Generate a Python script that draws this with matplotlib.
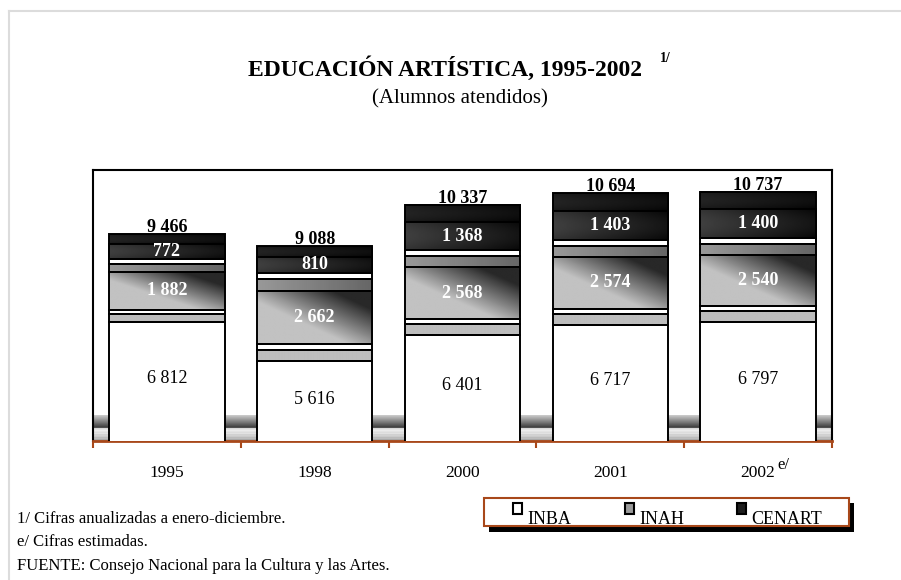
import numpy as np
import matplotlib
matplotlib.use('Agg')
import matplotlib.pyplot as plt
import matplotlib.patches as mpatches
from matplotlib.lines import Line2D

plt.rcParams['font.family'] = ['Liberation Serif', 'DejaVu Serif']

years = ['1995', '1998', '2000', '2001', '2002']
inba = [6812, 5616, 6401, 6717, 6797]
inah = [1882, 2662, 2568, 2574, 2540]
cenart = [772, 810, 1368, 1403, 1400]
totals = [9466, 9088, 10337, 10694, 10737]

BROWN = '#a8481a'
W, H = 901, 580


def fmt(v):
    return '{:,}'.format(v).replace(',', ' ')


def grad(ax, x0, x1, y0, y1, func, z):
    u, v = np.meshgrid(np.linspace(0, 1, 60), np.linspace(0, 1, 60))
    ax.imshow(func(u, v), extent=[x0, x1, y0, y1], origin='lower',
              cmap='gray', vmin=0, vmax=1, aspect='auto',
              interpolation='bilinear', zorder=z)


def diag_gray(u, v):
    t = np.clip((0.7 * u + 0.7 * v - 0.55) / 0.6, 0, 1)
    return 0.76 - 0.6 * t


def band_gray(u, v):
    return 0.6 - 0.2 * u + 0.0 * v


def light_gray(u, v):
    return 0.74 + 0.0 * u + 0.0 * v


def dark_low(u, v):
    return 0.2 - 0.17 * u + 0.05 * np.sin(v * np.pi)


def dark_top(u, v):
    return 0.1 - 0.08 * u + 0.04 * np.sin(v * np.pi)


def floor(u, v):
    top = np.where(v > 0.5, 0.2 + 0.6 * (v - 0.5) * 2, 0.0)
    bot = np.where(v <= 0.5, 0.95 - 0.3 * (1 - v * 2) ** 2 - 0.06 * (np.sin(v * 60) > 0), 0.0)
    return top + bot + 0.0 * u


fig = plt.figure(figsize=(W / 100, H / 100), dpi=100)

# frame elements in pixel space
ov = fig.add_axes([0, 0, 1, 1], zorder=3)
ov.set_xlim(0, W)
ov.set_ylim(H, 0)
ov.axis('off')
ov.patch.set_visible(False)

ax = fig.add_axes([93 / W, 1 - 441 / H, (832 - 93) / W, (441 - 170) / H], zorder=2)

x = np.arange(len(years))
bw = 0.78
ymin, ymax = 3200, 11400
floor_top = ymin + 780

grad(ax, -0.5, 4.5, ymin, floor_top, floor, 1)

lw = 1.4
for i in range(len(years)):
    x0 = x[i] - bw / 2
    x1 = x[i] + bw / 2
    # INBA
    ax.add_patch(mpatches.Rectangle((x0, 0), bw, inba[i], facecolor='white',
                                    edgecolor='black', lw=lw, zorder=4))
    # INAH sub-bands
    b = inba[i]
    h = inah[i]
    fr = [0, 0.13, 0.19, 0.80, 0.93, 1.0]
    funcs = [light_gray, None, diag_gray, band_gray, None]
    for k in range(5):
        ya = b + fr[k] * h
        yb = b + fr[k + 1] * h
        if funcs[k] is None:
            ax.add_patch(mpatches.Rectangle((x0, ya), bw, yb - ya, facecolor='white',
                                            edgecolor='none', zorder=3))
        else:
            grad(ax, x0, x1, ya, yb, funcs[k], 3)
        ax.add_patch(mpatches.Rectangle((x0, ya), bw, yb - ya, fill=False,
                                        edgecolor='black', lw=lw, zorder=4))
    # CENART
    b2 = inba[i] + inah[i]
    h2 = cenart[i]
    grad(ax, x0, x1, b2, b2 + 0.62 * h2, dark_low, 3)
    grad(ax, x0, x1, b2 + 0.62 * h2, b2 + h2, dark_top, 3)
    ax.add_patch(mpatches.Rectangle((x0, b2), bw, 0.62 * h2, fill=False,
                                    edgecolor='black', lw=lw, zorder=4))
    ax.add_patch(mpatches.Rectangle((x0, b2), bw, h2, fill=False,
                                    edgecolor='black', lw=lw, zorder=4))

    ax.text(x[i], ymin + (inba[i] - ymin) * 0.52, fmt(inba[i]), ha='center',
            va='center', fontsize=13, color='black', zorder=6)
    ax.text(x[i], b + h * 0.495, fmt(inah[i]), ha='center', va='center',
            fontsize=13, color='white', fontweight='bold', zorder=6)
    ax.text(x[i], b2 + h2 * 0.31, fmt(cenart[i]), ha='center', va='center',
            fontsize=13, color='white', fontweight='bold', zorder=6)
    ax.annotate(fmt(totals[i]), (x[i], totals[i]), xytext=(0, -1.5),
                textcoords='offset points', ha='center', va='bottom',
                fontsize=13, fontweight='bold', zorder=6)

ax.set_xlim(-0.5, 4.5)
ax.set_ylim(ymin, ymax)
ax.set_yticks([])
ax.set_xticks(x)
ax.set_xticklabels(years, fontsize=12.5)
ax.set_xticks(np.arange(-0.5, 5, 1), minor=True)
ax.tick_params(axis='x', which='major', length=0, pad=17)
ax.tick_params(axis='x', which='minor', length=5, width=1.5, color=BROWN)
for s in ['left', 'right', 'top']:
    ax.spines[s].set_linewidth(1.5)
    ax.spines[s].set_color('black')
ax.spines['bottom'].set_linewidth(2)
ax.spines['bottom'].set_color(BROWN)

# outer page border
ov.add_line(Line2D([9, W], [11, 11], color='#dcdcdc', lw=1.5))
ov.add_line(Line2D([9, 9], [11, H], color='#dcdcdc', lw=1.5))

# titles
ov.text(445, 69, 'EDUCACIÓN ARTÍSTICA, 1995-2002', ha='center', va='center',
        fontsize=17, fontweight='bold')
ov.text(660, 59, '1/', ha='left', va='center', fontsize=10, fontweight='bold')
ov.text(460, 99, '(Alumnos atendidos)', ha='center', va='center', fontsize=15)

# superscript on last year
ov.text(777, 465, 'e/', ha='left', va='center', fontsize=12)

# footnotes
notes = ['1/ Cifras anualizadas a enero-diciembre.', 'e/ Cifras estimadas.',
         'FUENTE: Consejo Nacional para la Cultura y las Artes.']
for j, n in enumerate(notes):
    ov.text(17, 519 + j * 23.5, n, ha='left', va='center', fontsize=12)

# legend
ov.add_patch(mpatches.Rectangle((489, 503), 365, 29, facecolor='black',
                                edgecolor='none', zorder=1))
ov.add_patch(mpatches.Rectangle((484, 498), 365, 28, facecolor='white',
                                edgecolor=BROWN, lw=1.5, zorder=2))
leg = [('INBA', 'white', 513, 527), ('INAH', '#9a9a9a', 625, 639),
       ('CENART', '#1e1e1e', 737, 751)]
for name, fc, mx, tx in leg:
    ov.add_patch(mpatches.Rectangle((mx, 503), 9, 11, facecolor=fc,
                                    edgecolor='black', lw=1.5, zorder=3))
    ov.text(tx, 524, name, ha='left', va='baseline', fontsize=13, zorder=3)

fig.savefig('out.png', dpi=100)
